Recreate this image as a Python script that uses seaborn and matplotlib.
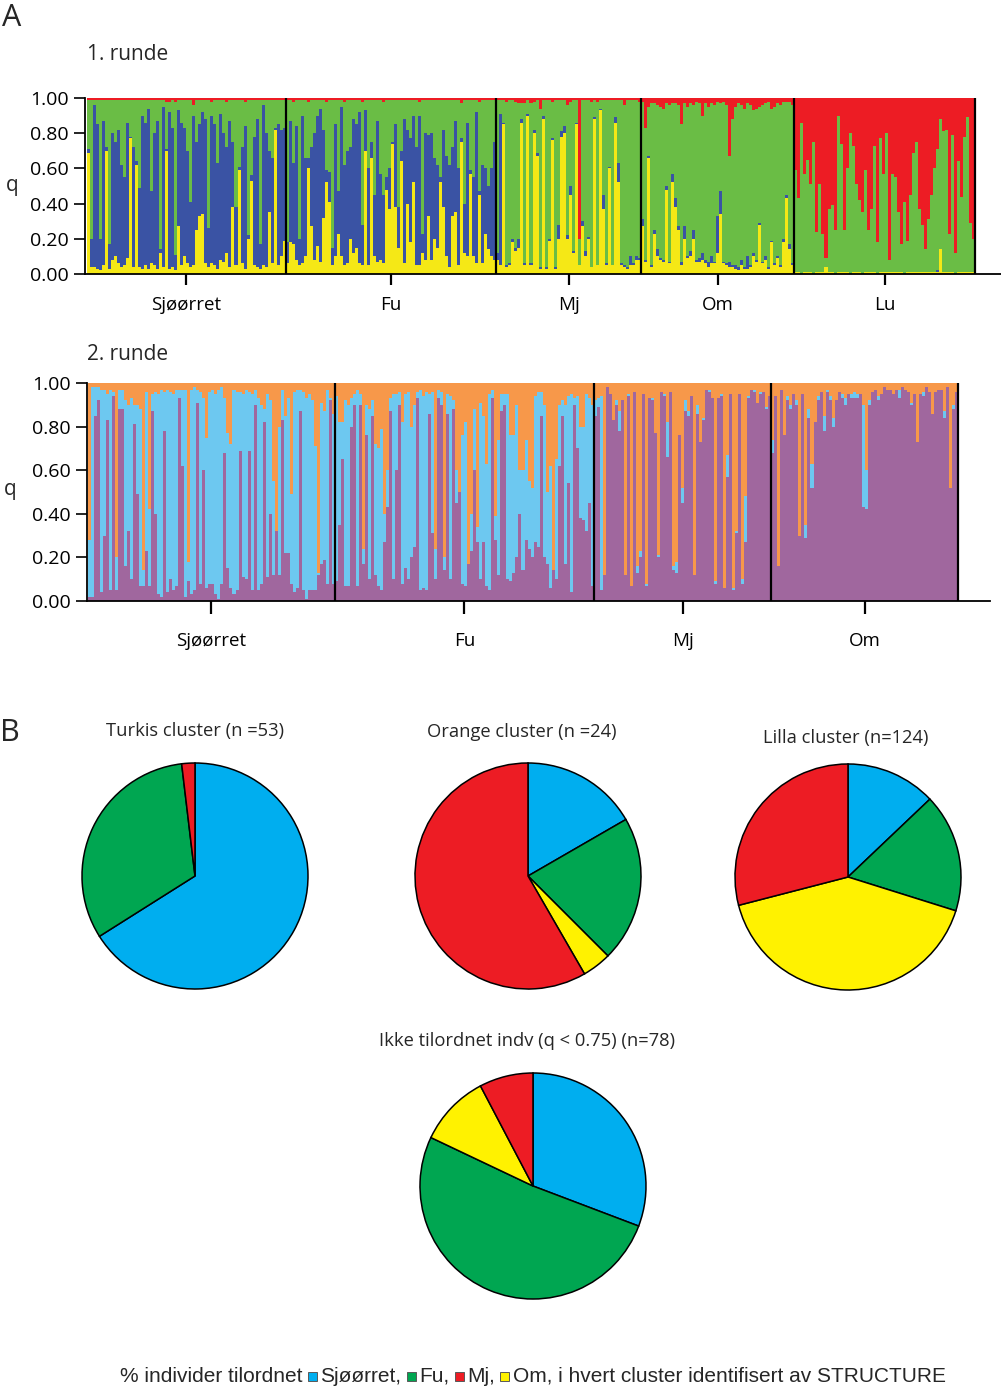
import numpy as np
import pandas as pd
import matplotlib
matplotlib.use('Agg')
import matplotlib.pyplot as plt
from matplotlib.patches import Rectangle
import seaborn as sns

sns.set_theme(style='white')
plt.rcParams['font.family'] = ['Open Sans', 'DejaVu Sans']

# ---------------- data: round 1 (K=4), q in percent ----------------
pops1 = ['Sjøørret', 'Fu', 'Mj', 'Om', 'Lu']

sjo1_yellow = [69, 4, 4, 3, 2, 5, 70, 3, 8, 10, 6, 4, 5, 9, 77, 4, 62, 4, 3, 5,
               3, 6, 5, 3, 12, 4, 70, 3, 4, 2, 27, 5, 10, 6, 4, 5, 25, 33, 34, 6,
               4, 6, 5, 3, 8, 7, 12, 4, 38, 5, 59, 6, 3, 20, 53, 5, 4, 3, 5, 4,
               35, 6, 82, 5, 10, 19]
sjo1_blue = [2, 16, 92, 82, 18, 82, 2, 14, 72, 65, 76, 58, 50, 77, 1, 68, 2, 45, 87, 81,
             91, 41, 75, 84, 2, 91, 1, 89, 79, 9, 66, 81, 73, 64, 37, 85, 50, 52, 58, 82,
             22, 84, 80, 60, 83, 73, 60, 83, 37, 33, 2, 66, 81, 2, 3, 73, 84, 14, 91, 76,
             35, 60, 1, 80, 72, 64]
sjo1_red = [1, 1, 1, 1, 1, 1, 1, 1, 1, 1, 1, 1, 1, 1, 1, 1, 1, 1, 1, 1,
            1, 1, 1, 1, 1, 1, 2, 2, 1, 2, 1, 1, 1, 1, 1, 4, 1, 1, 1, 1,
            1, 2, 1, 1, 1, 1, 2, 1, 1, 1, 1, 1, 2, 1, 1, 1, 1, 1, 1, 1,
            1, 1, 1, 1, 1, 1]

fu1_yellow = [6, 18, 17, 8, 5, 6, 10, 60, 27, 8, 16, 7, 32, 52, 41, 5, 10, 23, 10, 5,
              6, 20, 12, 15, 6, 5, 70, 5, 66, 10, 7, 8, 6, 48, 37, 74, 38, 15, 64, 6,
              40, 18, 52, 5, 5, 12, 8, 33, 8, 20, 15, 52, 38, 10, 4, 33, 35, 5, 75, 12,
              10, 57, 10, 6, 45, 6, 23, 14, 10, 8]
fu1_blue = [12, 69, 46, 76, 15, 84, 56, 6, 45, 72, 74, 87, 50, 7, 17, 10, 75, 24, 85, 57,
            64, 52, 76, 70, 86, 23, 23, 55, 9, 35, 80, 49, 39, 7, 23, 1, 47, 23, 6, 82,
            42, 59, 38, 67, 85, 11, 72, 46, 72, 46, 47, 3, 44, 57, 58, 39, 52, 55, 2, 28,
            76, 2, 45, 86, 2, 56, 37, 36, 50, 67]
fu1_red = [1, 1, 2, 1, 1, 1, 1, 2, 1, 1, 1, 1, 1, 2, 1, 1, 1, 1, 1, 2,
           1, 1, 1, 1, 1, 2, 1, 1, 1, 1, 1, 1, 2, 1, 1, 1, 1, 1, 1, 1,
           1, 1, 1, 1, 2, 1, 1, 1, 1, 1, 1, 1, 1, 1, 1, 1, 1, 1, 3, 1,
           1, 1, 1, 1, 2, 1, 1, 1, 1, 1]

mj1_yellow = [8, 5, 85, 4, 5, 18, 13, 15, 86, 5, 90, 5, 80, 67, 3, 88, 3, 19, 76, 3,
              20, 78, 80, 20, 45, 12, 85, 5, 27, 10, 20, 4, 88, 5, 93, 37, 5, 60, 5, 86,
              52, 5, 4, 3, 5, 5, 8, 8]
mj1_blue = [4, 86, 1, 1, 1, 2, 2, 5, 2, 1, 1, 1, 2, 2, 1, 2, 1, 1, 1, 1,
            8, 3, 4, 2, 5, 1, 1, 0, 3, 3, 1, 0, 1, 0, 1, 8, 1, 1, 0, 3,
            11, 1, 1, 1, 5, 1, 2, 1]
mj1_red = [1, 1, 1, 2, 1, 1, 2, 3, 3, 3, 1, 3, 2, 1, 6, 1, 1, 1, 2, 1,
           1, 1, 1, 4, 2, 1, 1, 80, 1, 1, 1, 2, 1, 2, 1, 1, 1, 1, 1, 1,
           1, 1, 4, 1, 1, 1, 1, 2]

om1_yellow = [27, 7, 66, 4, 23, 10, 8, 7, 48, 6, 52, 38, 25, 5, 20, 9, 10, 20, 7, 7,
              8, 6, 4, 6, 6, 12, 34, 6, 5, 4, 4, 3, 2, 5, 3, 3, 4, 10, 7, 28,
              6, 8, 3, 18, 5, 9, 4, 18, 43, 14, 5]
om1_blue = [4, 1, 1, 1, 2, 4, 1, 1, 2, 1, 5, 5, 2, 2, 7, 1, 3, 5, 1, 2,
            4, 2, 3, 4, 1, 21, 13, 1, 1, 3, 1, 2, 2, 3, 1, 7, 1, 2, 1, 1,
            1, 2, 1, 1, 1, 1, 1, 2, 2, 3, 1]
om1_red = [2, 17, 5, 3, 3, 4, 5, 6, 3, 4, 3, 3, 4, 15, 3, 5, 3, 4, 2, 3,
           10, 3, 5, 3, 4, 2, 3, 2, 4, 33, 12, 5, 3, 4, 6, 3, 4, 7, 6, 5,
           4, 3, 2, 6, 5, 3, 4, 2, 2, 2, 4]

lu1_yellow = [1, 1, 0, 1, 1, 1, 0, 1, 1, 1, 4, 1, 1, 0, 1, 1, 1, 1, 0, 1,
              1, 1, 0, 1, 1, 1, 1, 0, 1, 1, 1, 1, 1, 1, 1, 1, 0, 1, 1, 1,
              1, 1, 1, 1, 1, 1, 1, 1, 14, 1, 1, 1, 1, 0, 1, 1, 1, 1, 1, 1]
lu1_blue = [0, 0, 0, 0, 0, 0, 0, 0, 0, 0, 0, 0, 0, 0, 0, 0, 0, 0, 0, 0,
            0, 0, 0, 0, 0, 0, 0, 0, 0, 0, 0, 0, 0, 0, 0, 0, 0, 0, 0, 0,
            0, 0, 0, 0, 0, 0, 0, 1, 0, 0, 0, 0, 0, 0, 0, 0, 0, 0, 0, 0]
lu1_red = [41, 57, 14, 43, 35, 49, 25, 76, 49, 77, 91, 63, 61, 75, 10, 26, 75, 40, 20, 27,
           49, 58, 65, 41, 75, 63, 27, 82, 23, 43, 20, 92, 43, 45, 65, 83, 59, 81, 55, 31,
           25, 63, 72, 86, 69, 55, 40, 29, 12, 19, 18, 77, 21, 88, 36, 56, 22, 11, 71, 80]

# ---------------- data: round 2 (K=3), q in percent ----------------
pops2 = ['Sjøørret', 'Fu', 'Mj', 'Om']

sjo2_purple = [2, 2, 85, 92, 4, 30, 83, 5, 94, 5, 88, 88, 16, 32, 10, 81, 49, 7, 7, 23,
               7, 87, 40, 3, 2, 78, 4, 10, 5, 7, 93, 62, 2, 9, 3, 5, 91, 8, 60, 6,
               8, 8, 3, 1, 8, 68, 15, 6, 3, 5, 69, 11, 10, 69, 5, 90, 5, 8, 82, 11,
               40, 12, 32, 12, 83, 22, 22, 8, 4, 6, 87, 5, 1, 5, 5, 5, 12, 17, 19, 8,
               92, 8]
sjo2_cyan = [26, 96, 13, 6, 93, 67, 12, 92, 2, 15, 9, 9, 76, 58, 83, 9, 41, 81, 7, 73,
             35, 8, 56, 92, 95, 18, 93, 86, 90, 90, 4, 35, 95, 9, 94, 93, 6, 88, 33, 69,
             88, 89, 92, 96, 90, 25, 62, 66, 94, 91, 27, 84, 87, 27, 90, 7, 88, 82, 6, 84,
             52, 43, 0, 68, 14, 63, 71, 41, 92, 91, 10, 91, 92, 90, 87, 66, 1, 74, 68, 89,
             1, 78]

fu2_purple = [9, 35, 65, 7, 7, 80, 90, 7, 90, 17, 76, 10, 85, 12, 7, 5, 27, 43, 87, 10,
              60, 90, 8, 15, 10, 20, 25, 93, 5, 6, 5, 86, 31, 10, 93, 90, 14, 86, 10, 88,
              45, 50, 8, 7, 17, 23, 60, 27, 10, 27, 7, 5, 93, 28, 12, 87, 90, 10, 9, 13,
              20, 40, 14, 28, 24, 20, 27, 25, 85, 20, 17, 6, 14, 10, 62, 85, 17, 54, 4, 90,
              70, 38, 37, 32, 45, 7]
fu2_cyan = [85, 47, 17, 85, 83, 13, 5, 90, 5, 7, 14, 78, 7, 60, 63, 74, 13, 17, 6, 85,
            35, 6, 74, 80, 86, 60, 65, 3, 92, 88, 91, 9, 65, 14, 4, 6, 6, 9, 84, 4,
            15, 0, 68, 75, 0, 17, 28, 7, 81, 58, 56, 90, 4, 11, 62, 8, 5, 85, 67, 63,
            70, 20, 46, 46, 31, 32, 67, 71, 11, 70, 33, 56, 0, 55, 28, 7, 73, 40, 91, 3,
            24, 42, 43, 63, 48, 83]

mj2_purple = [85, 89, 5, 12, 98, 95, 83, 90, 78, 92, 12, 94, 7, 96, 13, 20, 95, 7, 93, 92,
              77, 20, 96, 94, 66, 96, 14, 13, 76, 45, 87, 85, 94, 12, 86, 73, 83, 97, 96, 93,
              8, 93, 94, 6, 57, 95, 5, 31, 95, 8, 27, 93, 97, 96, 91, 95, 96, 88, 94]
mj2_cyan = [7, 4, 89, 0, 0, 0, 0, 2, 9, 0, 0, 1, 0, 0, 3, 3, 0, 1, 0, 1,
            0, 1, 0, 1, 16, 0, 2, 5, 0, 7, 5, 2, 0, 0, 4, 0, 1, 0, 1, 0,
            1, 0, 1, 0, 10, 0, 1, 1, 0, 2, 21, 1, 0, 1, 0, 1, 0, 1, 0]

om2_purple = [68, 94, 16, 97, 76, 92, 88, 95, 90, 30, 95, 29, 84, 52, 82, 92, 96, 78, 96, 92,
              80, 92, 96, 93, 90, 95, 93, 93, 93, 95, 43, 42, 90, 96, 97, 92, 95, 98, 97, 97,
              95, 97, 93, 98, 97, 96, 90, 95, 73, 95, 94, 98, 96, 86, 96, 97, 97, 84, 98, 52,
              88, 96]
om2_cyan = [6, 0, 0, 0, 0, 2, 2, 0, 2, 0, 0, 6, 4, 11, 0, 2, 0, 7, 1, 2,
            4, 0, 0, 2, 3, 0, 2, 3, 2, 0, 47, 18, 2, 0, 0, 2, 0, 0, 0, 0,
            0, 0, 4, 0, 0, 0, 1, 0, 0, 0, 2, 0, 0, 0, 0, 0, 0, 3, 0, 0,
            2, 0]

# ---------------- data: panel B pies (counts, clockwise from top) ----------------
pie_groups = ['Sjøørret', 'Fu', 'Om', 'Mj']
turkis_counts = [35, 17, 0, 1]
orange_counts = [4, 5, 1, 14]
lilla_counts = [16, 21, 51, 36]
ikke_counts = [24, 40, 8, 6]

# colours
c_yellow, c_blue, c_green, c_red = '#F5E816', '#3A53A4', '#6ABD45', '#ED1C24'
c_purple, c_cyan, c_orange = '#A0679E', '#6DC8F0', '#F7984A'
pie_colors = {'Sjøørret': '#00AEEF', 'Fu': '#00A651', 'Mj': '#ED1C24', 'Om': '#FFF200'}

W, H = 1001, 1391


def fx(px):
    return px / W


def fy(py):
    return 1 - py / H


def build_frame(pop_names, layers):
    rows = []
    for name, cols in zip(pop_names, layers):
        part = pd.DataFrame(cols)
        part['pop'] = name
        rows.append(part)
    df = pd.concat(rows, ignore_index=True)
    df['pos'] = np.arange(len(df)) + 0.5
    return df


def draw_structure(ax, df, order, colors):
    cum = df[order].cumsum(axis=1) / 100.0
    for col, color in reversed(list(zip(order, colors))):
        sns.barplot(x=df['pos'], y=cum[col], color=color, width=1, native_scale=True,
                    linewidth=0, saturation=1, errorbar=None, ax=ax)


def style_axes(ax, df, pop_names, n_start_px, n_end_px, ax_left_px, ax_right_px, tick_len, xpad):
    n = len(df)
    ppb = (n_end_px - n_start_px) / n
    ax.set_xlim(-(n_start_px - ax_left_px) / ppb, n + (ax_right_px - n_end_px) / ppb)
    ax.set_ylim(0, 1)
    counts = df.groupby('pop', sort=False).size().reindex(pop_names).values
    ends = np.cumsum(counts)
    starts = ends - counts
    ax.vlines(ends, 0, 1, color='black', lw=1.6, zorder=5)
    ax.set_xticks((starts + ends) / 2)
    ax.set_xticklabels(pop_names, fontsize=13.5)
    ax.set_yticks([0, 0.2, 0.4, 0.6, 0.8, 1.0])
    ax.set_yticklabels(['0.00', '0.20', '0.40', '0.60', '0.80', '1.00'], fontsize=14)
    ax.set_xlabel('')
    ax.set_ylabel('')
    for s in ['top', 'right']:
        ax.spines[s].set_visible(False)
    for s in ['left', 'bottom']:
        ax.spines[s].set_color('black')
        ax.spines[s].set_linewidth(1.3)
    ax.tick_params(axis='y', left=True, direction='out', length=8, width=1.2,
                   color='black', labelcolor='black', pad=4)
    ax.tick_params(axis='x', bottom=True, direction='out', length=tick_len, width=1.6,
                   color='black', labelcolor='black', pad=xpad)


fig = plt.figure(figsize=(W / 100, H / 100), dpi=100)

# ---------- round 1 ----------
df1 = build_frame(pops1, [
    {'yellow': sjo1_yellow, 'blue': sjo1_blue, 'red': sjo1_red},
    {'yellow': fu1_yellow, 'blue': fu1_blue, 'red': fu1_red},
    {'yellow': mj1_yellow, 'blue': mj1_blue, 'red': mj1_red},
    {'yellow': om1_yellow, 'blue': om1_blue, 'red': om1_red},
    {'yellow': lu1_yellow, 'blue': lu1_blue, 'red': lu1_red},
])
df1['green'] = 100 - df1['yellow'] - df1['blue'] - df1['red']
ax1 = fig.add_axes([fx(85), fy(274), (1001 - 85) / W, (274 - 98) / H])
draw_structure(ax1, df1, ['yellow', 'blue', 'green', 'red'], [c_yellow, c_blue, c_green, c_red])
style_axes(ax1, df1, pops1, 87, 975, 85, 1001, 8, 8)

# ---------- round 2 ----------
df2 = build_frame(pops2, [
    {'purple': sjo2_purple, 'cyan': sjo2_cyan},
    {'purple': fu2_purple, 'cyan': fu2_cyan},
    {'purple': mj2_purple, 'cyan': mj2_cyan},
    {'purple': om2_purple, 'cyan': om2_cyan},
])
df2['orange'] = 100 - df2['purple'] - df2['cyan']
ax2 = fig.add_axes([fx(87), fy(601), (990 - 87) / W, (601 - 383) / H])
draw_structure(ax2, df2, ['purple', 'cyan', 'orange'], [c_purple, c_cyan, c_orange])
style_axes(ax2, df2, pops2, 88, 958, 87, 990, 9, 13)

# ---------- panel labels and titles ----------
fig.text(fx(12), fy(18), 'A', fontsize=22, ha='center', va='center')
fig.text(fx(10), fy(733), 'B', fontsize=22, ha='center', va='center')
fig.text(fx(87), fy(54), '1. runde', fontsize=15, ha='left', va='center')
fig.text(fx(87), fy(354), '2. runde', fontsize=15, ha='left', va='center')
fig.text(fx(12), fy(185), 'q', fontsize=15, ha='center', va='center')
fig.text(fx(10), fy(490), 'q', fontsize=15, ha='center', va='center')

# ---------- pies ----------
R = 113
pies = [
    (turkis_counts, 195, 876, 'Turkis cluster (n =53)', 195, 731),
    (orange_counts, 528, 876, 'Orange cluster (n =24)', 522, 732),
    (lilla_counts, 848, 877, 'Lilla cluster (n=124)', 846, 738),
    (ikke_counts, 533, 1186, 'Ikke tilordnet indv (q < 0.75) (n=78)', 527, 1041),
]
for counts, cx, cy, title, tx, ty in pies:
    half = 1.25 * R
    pax = fig.add_axes([fx(cx - half), fy(cy + half), 2 * half / W, 2 * half / H])
    vals = [v for v in counts if v > 0]
    cols = [pie_colors[g] for g, v in zip(pie_groups, counts) if v > 0]
    pax.pie(vals, colors=cols, startangle=90, counterclock=False, radius=1,
            wedgeprops=dict(edgecolor='black', linewidth=1.1))
    pax.set_xlim(-1.25, 1.25)
    pax.set_ylim(-1.25, 1.25)
    pax.set_aspect('equal')
    pax.axis('off')
    fig.text(fx(tx), fy(ty), title, fontsize=13.2, ha='center', va='center')

# ---------- bottom caption with coloured squares ----------
renderer = fig.canvas.get_renderer()
cap_font = dict(fontsize=15, family=['Liberation Sans', 'DejaVu Sans'])
cursor = 120.0
yc = 1376
pieces = [('% individer tilordnet', None), ('Sjøørret,', 'Sjøørret'), ('Fu,', 'Fu'),
          ('Mj,', 'Mj'), ('Om, i hvert cluster identifisert av STRUCTURE', 'Om')]
for text, sq in pieces:
    if sq is not None:
        cursor += 5
        fig.add_artist(Rectangle((fx(cursor), fy(yc + 5)), 9 / W, 9 / H, transform=fig.transFigure,
                                 facecolor=pie_colors[sq], edgecolor='0.35', linewidth=0.7))
        cursor += 13
    t = fig.text(fx(cursor), fy(yc), text, ha='left', va='center', **cap_font)
    bb = t.get_window_extent(renderer=renderer)
    cursor += bb.width

fig.savefig('out.png', dpi=100)
